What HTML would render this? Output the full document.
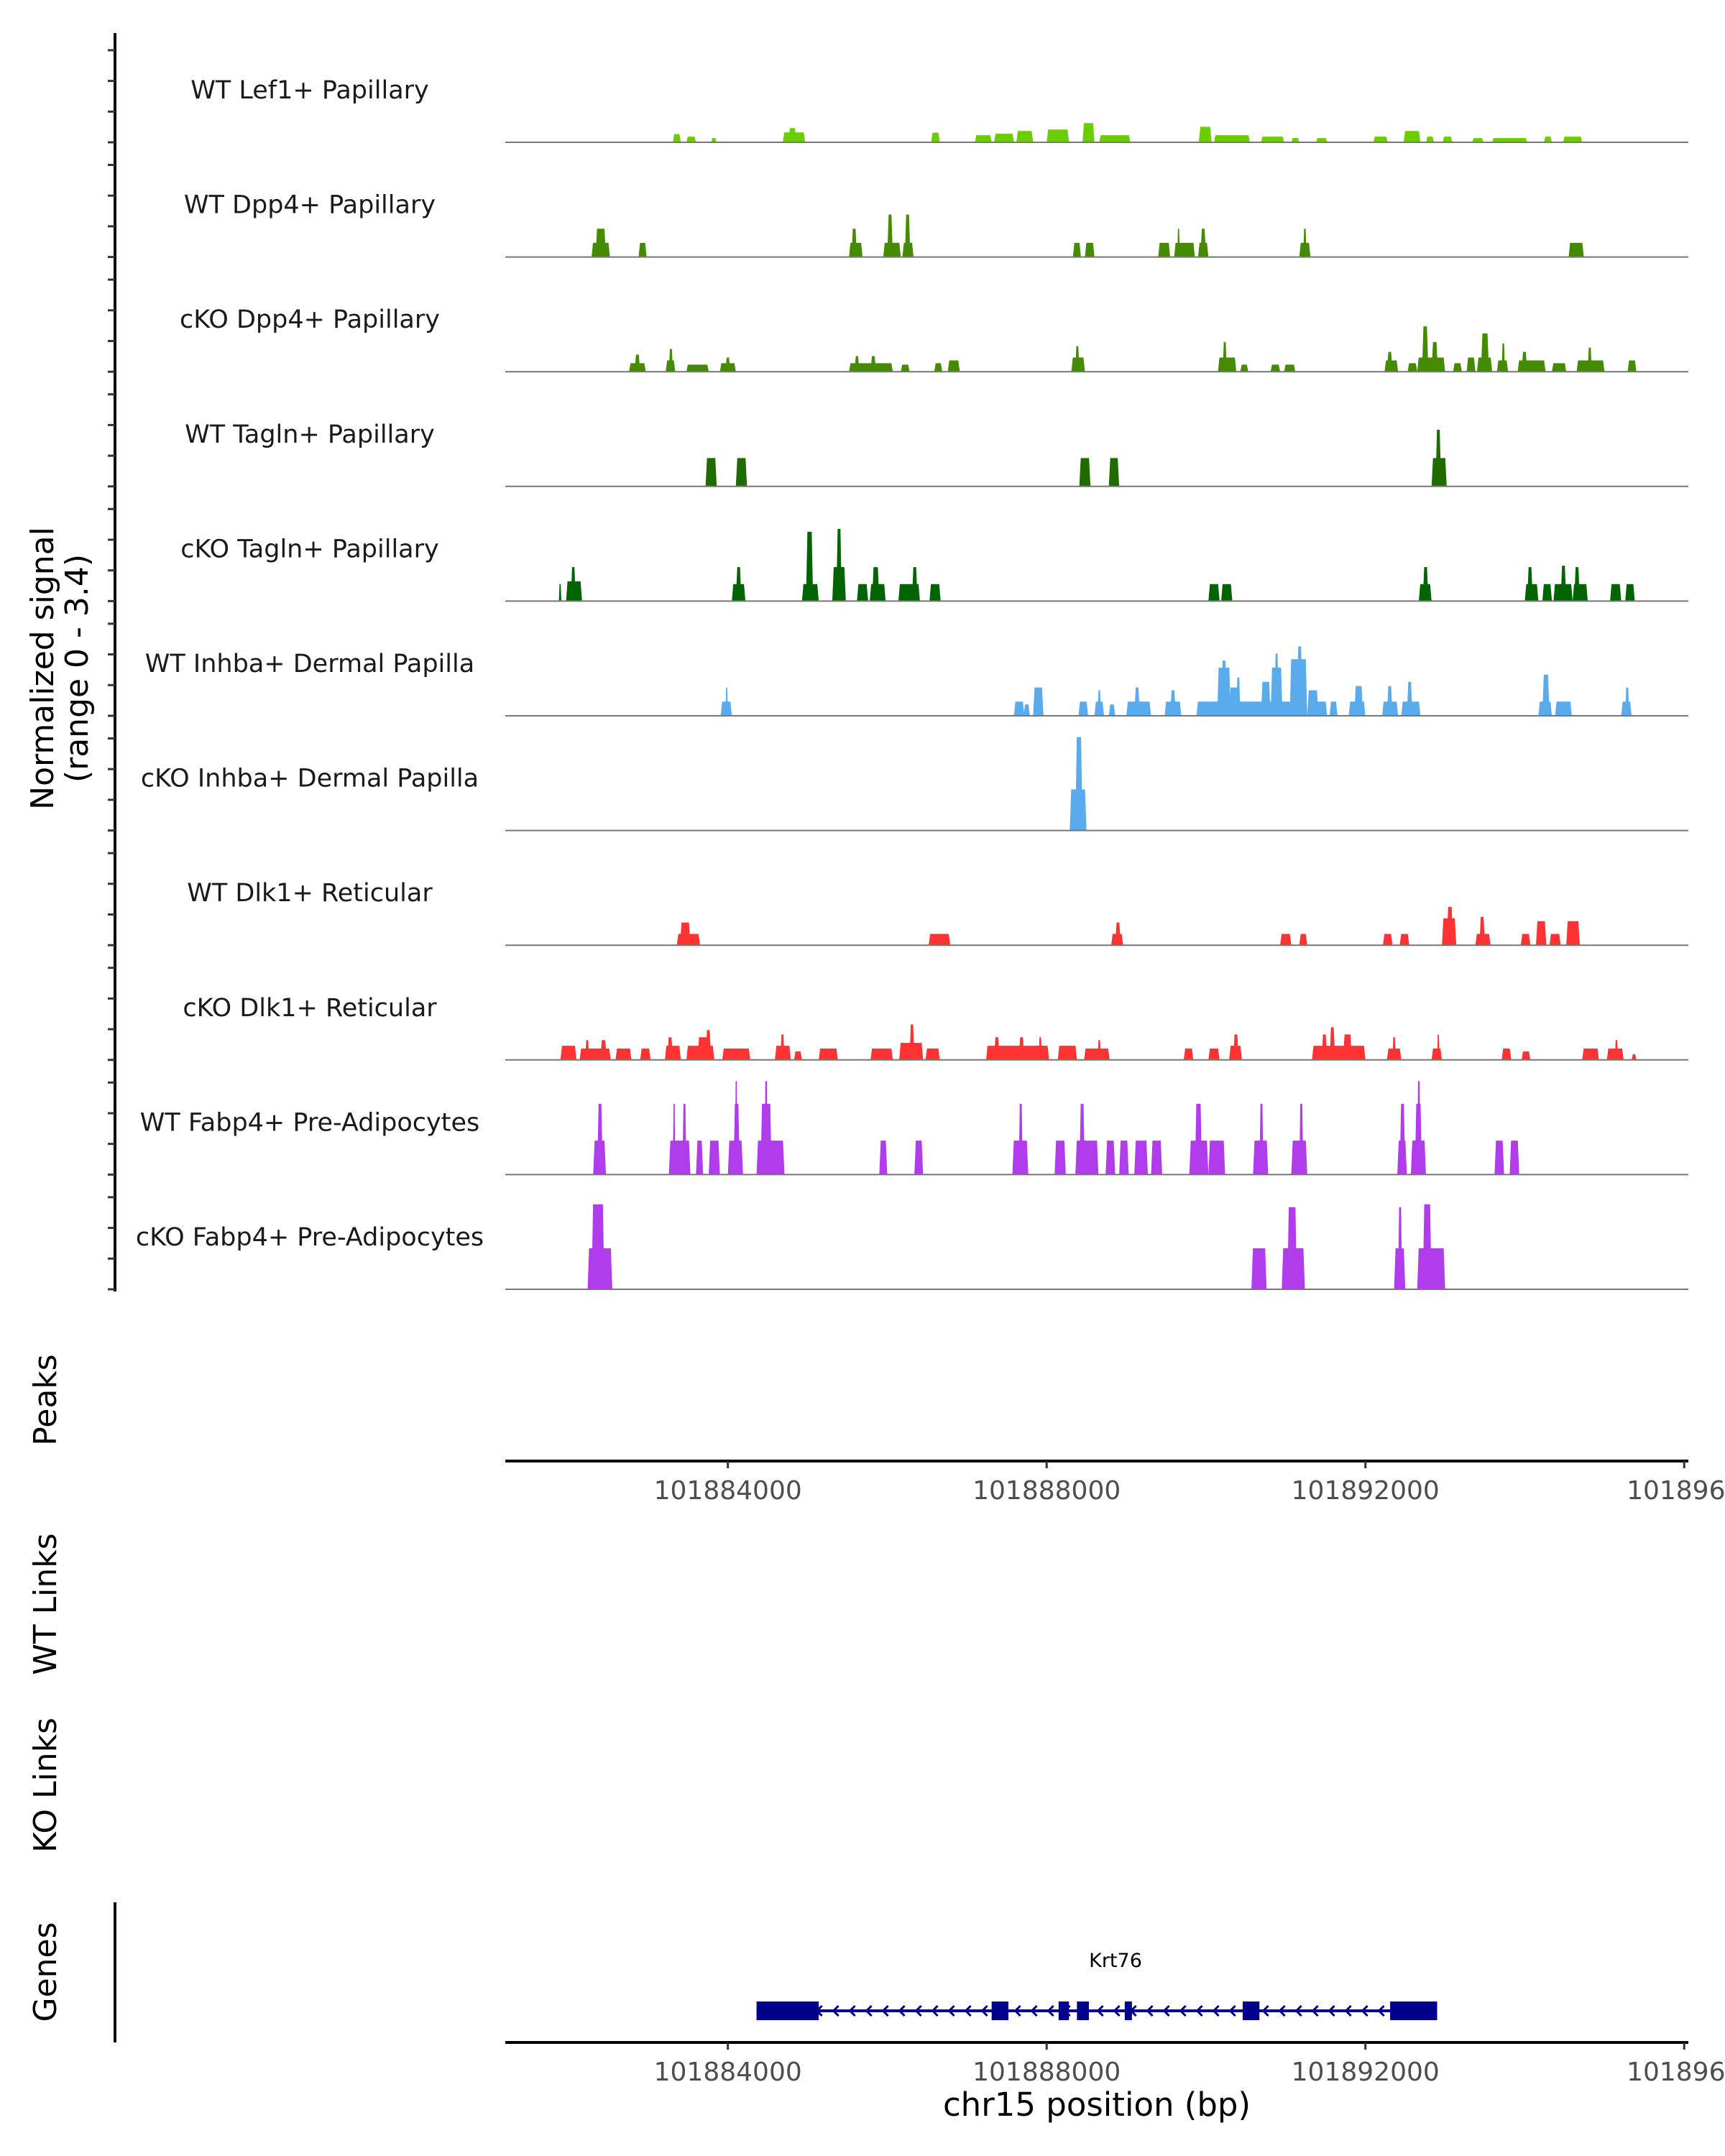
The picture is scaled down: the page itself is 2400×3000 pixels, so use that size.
<!DOCTYPE html>
<html><head><meta charset="utf-8">
<style>
html,body{margin:0;padding:0;background:#fff;}
svg{display:block;}
text{font-family:"DejaVu Sans","Liberation Sans",sans-serif;}
</style></head>
<body>
<svg id="chart" width="2400" height="3000" viewBox="0 0 2400 3000" xmlns="http://www.w3.org/2000/svg">
<rect x="0" y="0" width="2400" height="3000" fill="#fff"/>
<g id="tracks"></g>
<g id="axes"></g>
<g id="genes"></g>
<text x="0" y="0" transform="translate(88,930) rotate(-90)" text-anchor="middle" font-size="44" fill="#000"><tspan x="0" dy="-14">Normalized signal</tspan><tspan x="0" dy="48">(range 0 - 3.4)</tspan></text>
<text transform="translate(78,1948) rotate(-90)" text-anchor="middle" font-size="44" fill="#000">Peaks</text>
<text transform="translate(78,2232) rotate(-90)" text-anchor="middle" font-size="44" fill="#000">WT Links</text>
<text transform="translate(78,2484) rotate(-90)" text-anchor="middle" font-size="44" fill="#000">KO Links</text>
<text transform="translate(78,2744) rotate(-90)" text-anchor="middle" font-size="44" fill="#000">Genes</text>
<text x="1526" y="2944" text-anchor="middle" font-size="45" fill="#000">chr15 position (bp)</text>
</svg>
<script>
// positions are kb offsets from chr15:101,880,000; heights in normalized signal units
const regionStartKb = 1.207;
const regionEndKb = 16.052;
const axisTicksBp = [101884000, 101888000, 101892000, 101896000];
const axisTickLabels = ["101884000", "101888000", "101892000", "1018960"];
const trackNames = ["WT Lef1+ Papillary","WT Dpp4+ Papillary","cKO Dpp4+ Papillary","WT Tagln+ Papillary","cKO Tagln+ Papillary","WT Inhba+ Dermal Papilla","cKO Inhba+ Dermal Papilla","WT Dlk1+ Reticular","cKO Dlk1+ Reticular","WT Fabp4+ Pre-Adipocytes","cKO Fabp4+ Pre-Adipocytes"];
const trackColors = ["#6acd00","#448b00","#448b00","#1f6b00","#006400","#5aabeb","#5aabeb","#ff3333","#ff3333","#b03cec","#b03cec"];
const lef1WT = [[3.31,3.41,.29],[3.48,3.60,.2],[3.79,3.86,.15],[4.69,4.97,.35],[4.76,4.86,.5],[6.55,6.66,.34],[7.10,7.31,.25],[7.34,7.59,.3],[7.62,7.83,.4],[8.00,8.28,.45],[8.45,8.60,.68],[8.66,9.05,.25],[9.91,10.07,.55],[10.10,10.55,.25],[10.69,10.98,.2],[11.07,11.17,.15],[11.38,11.52,.15],[12.10,12.28,.2],[12.48,12.69,.4],[12.76,12.86,.2],[12.97,13.09,.2],[13.34,13.48,.15],[13.59,14.03,.15],[14.24,14.34,.2],[14.48,14.72,.2]];
const dpp4WT = [[2.29,2.52,.5],[2.34,2.47,1.0],[2.88,2.98,.5],[5.52,5.69,.5],[5.55,5.62,1.0],[5.95,6.17,.5],[6.00,6.07,1.5],[6.19,6.33,.5],[6.22,6.29,1.5],[8.33,8.43,.5],[8.48,8.60,.5],[9.40,9.55,.5],[9.60,9.86,.5],[9.64,9.67,1.0],[9.90,10.03,.5],[9.93,10.00,1.0],[11.17,11.31,.5],[11.22,11.26,1.0],[14.55,14.74,.5]];
const dpp4KO = [[2.76,2.97,.3],[2.83,2.90,.6],[3.22,3.34,.4],[3.26,3.31,.8],[3.48,3.76,.25],[3.90,4.10,.3],[3.97,4.03,.5],[5.52,6.07,.3],[5.59,5.65,.55],[5.79,5.86,.55],[6.17,6.28,.25],[6.59,6.69,.3],[6.76,6.91,.4],[8.31,8.48,.5],[8.36,8.41,.9],[10.15,10.38,.5],[10.21,10.26,1.05],[10.43,10.53,.25],[10.81,10.93,.25],[10.98,11.12,.25],[12.24,12.41,.4],[12.27,12.34,.7],[12.53,12.65,.3],[12.65,13.00,.5],[12.71,12.79,1.6],[12.83,12.91,1.05],[13.10,13.21,.3],[13.27,13.38,.5],[13.40,13.59,.5],[13.45,13.55,1.35],[13.65,13.79,.4],[13.71,13.75,1.0],[13.91,14.26,.4],[13.96,14.03,.7],[14.34,14.52,.3],[14.65,15.00,.4],[14.79,14.84,.85],[15.29,15.40,.4]];
const taglnWT = [[3.72,3.86,1.0],[4.10,4.24,1.0],[8.41,8.55,1.0],[8.78,8.91,1.0],[12.83,13.02,1.0],[12.88,12.95,2.0]];
const taglnKO = [[1.88,1.91,.6],[1.97,2.17,.7],[2.03,2.09,1.2],[4.05,4.22,.6],[4.10,4.17,1.2],[4.93,5.14,.6],[4.98,5.07,2.45],[5.31,5.48,1.2],[5.36,5.43,2.55],[5.62,5.76,.6],[5.78,5.98,.6],[5.81,5.90,1.2],[6.14,6.41,.6],[6.31,6.38,1.2],[6.53,6.67,.6],[10.03,10.17,.6],[10.19,10.33,.6],[12.67,12.83,.6],[12.72,12.79,1.2],[14.00,14.17,.6],[14.03,14.10,1.2],[14.22,14.34,.6],[14.36,14.60,.6],[14.45,14.52,1.25],[14.60,14.79,.6],[14.62,14.69,1.2],[15.07,15.21,.6],[15.26,15.38,.6]];
const inhbaWT = [[3.91,4.05,.5],[3.97,4.00,1.0],[7.59,7.72,.5],[7.71,7.79,.4],[7.83,7.96,1.0],[8.40,8.52,.5],[8.60,8.72,.5],[8.64,8.68,.9],[8.78,8.86,.4],[9.00,9.31,.5],[9.10,9.17,1.0],[9.48,9.69,.5],[9.55,9.62,.9],[9.88,11.07,.5],[10.14,10.31,1.7],[10.19,10.26,1.95],[10.29,10.43,1.0],[10.38,10.43,1.35],[10.69,10.81,1.2],[10.81,10.96,1.7],[10.86,10.91,2.2],[11.05,11.27,2.0],[11.14,11.21,2.45],[11.27,11.41,.9],[11.38,11.52,.5],[11.55,11.65,.5],[11.79,12.00,.5],[11.86,11.97,1.05],[12.21,12.41,.5],[12.27,12.34,1.05],[12.45,12.69,.5],[12.52,12.59,1.2],[14.17,14.34,.5],[14.22,14.31,1.45],[14.38,14.59,.5],[15.21,15.34,.5],[15.26,15.31,1.0]];
const inhbaKO = [[8.29,8.50,1.45],[8.36,8.45,3.3]];
const dlk1WT = [[3.36,3.65,.4],[3.40,3.53,.8],[6.52,6.79,.4],[8.81,8.96,.4],[8.86,8.93,.8],[10.93,11.07,.4],[11.17,11.27,.4],[12.22,12.34,.4],[12.43,12.55,.4],[12.96,13.14,.95],[13.02,13.10,1.35],[13.38,13.57,.4],[13.43,13.50,1.0],[13.95,14.07,.4],[14.14,14.27,.85],[14.31,14.45,.4],[14.52,14.69,.85]];
const dlk1KO = [[1.90,2.10,.5],[2.14,2.53,.4],[2.21,2.26,.7],[2.40,2.48,.7],[2.59,2.79,.4],[2.90,3.03,.4],[3.21,3.41,.5],[3.24,3.31,.8],[3.48,3.83,.5],[3.62,3.79,.8],[3.72,3.79,1.05],[3.93,4.28,.4],[4.59,4.79,.5],[4.66,4.71,.9],[4.83,4.93,.3],[5.14,5.38,.4],[5.79,6.07,.4],[6.15,6.45,.6],[6.28,6.34,1.25],[6.48,6.66,.4],[7.24,7.98,.5],[7.34,7.41,.8],[7.65,7.72,.8],[7.83,8.03,.5],[7.90,7.94,.8],[8.14,8.31,.5],[8.22,8.38,.5],[8.47,8.79,.4],[8.64,8.68,.7],[9.72,9.84,.4],[10.03,10.17,.4],[10.29,10.45,.5],[10.34,10.41,.9],[11.33,12.00,.5],[11.45,11.52,.9],[11.55,11.62,1.15],[11.72,11.83,.9],[12.27,12.45,.4],[12.34,12.38,.8],[12.83,12.96,.4],[12.90,12.93,.9],[13.71,13.83,.4],[13.96,14.07,.3],[14.72,14.93,.4],[15.03,15.24,.4],[15.13,15.17,.7],[15.34,15.40,.2]];
const fabp4WT = [[2.31,2.47,1.2],[2.36,2.43,2.5],[3.26,3.53,1.2],[3.31,3.34,2.5],[3.43,3.48,2.5],[3.60,3.69,1.2],[3.76,3.90,1.2],[4.00,4.19,1.2],[4.07,4.15,2.5],[4.09,4.12,3.3],[4.36,4.71,1.2],[4.41,4.55,2.5],[4.46,4.50,3.3],[5.90,6.00,1.2],[6.34,6.45,1.2],[7.57,7.77,1.2],[7.65,7.70,2.5],[8.10,8.24,1.2],[8.36,8.65,1.2],[8.41,8.48,2.5],[8.74,8.86,1.2],[8.91,9.03,1.2],[9.10,9.27,1.2],[9.31,9.45,1.2],[9.79,10.03,1.2],[9.86,9.95,2.5],[10.03,10.24,1.2],[10.59,10.78,1.2],[10.67,10.72,2.5],[11.07,11.27,1.2],[11.17,11.22,2.5],[12.40,12.52,1.2],[12.43,12.50,2.5],[12.57,12.76,1.2],[12.62,12.71,2.5],[12.65,12.69,3.3],[13.62,13.74,1.2],[13.81,13.93,1.2]];
const fabp4KO = [[2.24,2.55,1.45],[2.29,2.45,3.0],[10.57,10.76,1.45],[10.95,11.24,1.45],[11.02,11.14,2.9],[12.36,12.50,1.45],[12.41,12.46,2.9],[12.65,13.00,1.45],[12.72,12.83,3.0]];
const trackData = [lef1WT,dpp4WT,dpp4KO,taglnWT,taglnKO,inhbaWT,inhbaKO,dlk1WT,dlk1KO,fabp4WT,fabp4KO];
const geneExonsKb = [[4.36,5.14],[7.31,7.52],[8.15,8.28],[8.38,8.53],[8.98,9.07],[10.46,10.67],[12.31,12.90]];
const geneStartKb = 4.36, geneEndKb = 12.90;

const NS = "http://www.w3.org/2000/svg";
const X0 = 703, X1 = 2349;
function xScale(kb){ return X0 + (kb - regionStartKb) / (regionEndKb - regionStartKb) * (X1 - X0); }
const base0 = 198, trackStep = 159.6, unitPx = 39.4;
function yScale(t, v){ return base0 + t * trackStep - v * unitPx; }
function mk(tag, attrs, parent){ const e = document.createElementNS(NS, tag); for (const k in attrs) e.setAttribute(k, attrs[k]); parent.appendChild(e); return e; }

const tracks = document.getElementById('tracks');
trackData.forEach((peaks, t) => {
  const g = mk('g', {}, tracks);
  
  
  const lbl = mk('text', {x: 431, y: yScale(t, 0) - 71, 'text-anchor': 'middle', 'dominant-baseline': 'middle', 'font-size': 35, fill: '#1a1a1a'}, g);
  lbl.textContent = trackNames[t];
  
  
  peaks.forEach(p => {
    const xa = xScale(p[0]), xb = xScale(p[1]), yb = yScale(t, 0), yt = yScale(t, p[2]);
    const e = Math.min(2, (xb - xa) / 4);
    const poly = mk('polygon', {points: `${xa},${yb} ${xa+e},${yt} ${xb-e},${yt} ${xb},${yb}`, fill: trackColors[t]}, g);
    
    
  });
  const bl = mk('line', {x1: X0, x2: X1, y1: yScale(t, 0), y2: yScale(t, 0), stroke: '#777', 'stroke-width': 2}, g);
  
  
});

const axes = document.getElementById('axes');
const yl = mk('line', {x1: 160, x2: 160, y1: 46, y2: 1797, stroke: '#000', 'stroke-width': 4}, axes);


for (let t = 0; t < trackData.length; t++) {
  for (let k = 0; k < 4; k++) {
    const y = yScale(t, 0) - k * 42.7;
    const tk = mk('line', {x1: 150, x2: 160, y1: y, y2: y, stroke: '#333', 'stroke-width': 3}, axes);
    
    
  }
}
function xAxis(y, name){
  const l = mk('line', {x1: X0, x2: X1, y1: y, y2: y, stroke: '#000', 'stroke-width': 4}, axes);
  
  
  axisTicksBp.forEach((bp, i) => {
    const x = xScale((bp - 101880000) / 1000);
    const tk = mk('line', {x1: x, x2: x, y1: y, y2: y + 10, stroke: '#333', 'stroke-width': 3}, axes);
    
    
    const tx = mk('text', {x: x, y: y + 53, 'text-anchor': 'middle', 'font-size': 36, fill: '#4d4d4d'}, axes);
    tx.textContent = axisTickLabels[i];
    
    
  });
}
xAxis(2033, 'peaks-x-axis');
xAxis(2842, 'genes-x-axis');
const gl = mk('line', {x1: 160, x2: 160, y1: 2647, y2: 2842, stroke: '#000', 'stroke-width': 4}, axes);



const genes = document.getElementById('genes');
const gy = 2798;
const intron = mk('line', {x1: xScale(geneStartKb), x2: xScale(geneEndKb), y1: gy, y2: gy, stroke: '#00008b', 'stroke-width': 4}, genes);


for (let x = xScale(geneStartKb) + 40; x < xScale(geneEndKb) - 40; x += 23) {
  const ch = mk('polyline', {points: `${x+5},${gy-7} ${x-2},${gy} ${x+5},${gy+7}`, fill: 'none', stroke: '#00008b', 'stroke-width': 3}, genes);
  
  
}
geneExonsKb.forEach(ex => {
  const r = mk('rect', {x: xScale(ex[0]), y: gy - 13, width: xScale(ex[1]) - xScale(ex[0]), height: 26, fill: '#00008b'}, genes);
  
  
});
const gn = mk('text', {x: 1552, y: 2737, 'text-anchor': 'middle', 'font-size': 27, fill: '#000'}, genes);
gn.textContent = 'Krt76';


</script>
</body></html>
